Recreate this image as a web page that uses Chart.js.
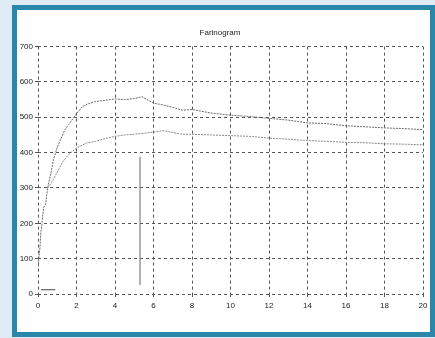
<!DOCTYPE html>
<html>
<head>
<meta charset="utf-8">
<script src="https://cdn.jsdelivr.net/npm/chart.js@4/dist/chart.umd.min.js"></script>
<style>
    html, body { margin: 0; padding: 0; }
    body { width: 435px; height: 338px; background: #deebf5; position: relative; overflow: hidden; }
    #frame { position: absolute; left: 12px; top: 5px; width: 413px; height: 322px; border: 5px solid #2a87a9; background: #fff; }
    #chart1 { display: block; }
</style>
</head>
<body>
<div id="frame"><canvas id="chart1" width="413" height="322"></canvas></div>
<script>
// curva de cima
var xSuperior = [0, 0.05, 0.1, 0.15, 0.2, 0.25, 0.3, 0.4, 0.5, 0.6, 0.7, 0.8, 1.0, 1.2, 1.4, 1.6, 1.8, 2.0, 2.3, 2.6, 3.0, 3.5, 4.0, 4.5, 5.0, 5.4, 6, 6.5, 7, 7.5, 8, 9, 10, 11, 12, 13, 14, 15, 16, 17, 18, 19, 20];
var ySuperior = [75, 105, 130, 175, 195, 225, 245, 255, 300, 325, 350, 380, 415, 440, 465, 480, 495, 510, 530, 538, 545, 548, 552, 550, 553, 558, 540, 535, 528, 520, 522, 512, 506, 502, 497, 492, 484, 482, 476, 473, 470, 468, 465];

// curva de baixo
var xInferior = [0.5, 0.7, 0.9, 1.1, 1.3, 1.6, 2.0, 2.5, 3, 3.5, 4, 4.5, 5, 5.5, 6, 6.5, 7, 7.5, 8, 9, 10, 11, 12, 13, 14, 15, 16, 17, 18, 19, 20];
var yInferior = [300, 315, 335, 355, 375, 395, 413, 427, 432, 440, 446, 450, 452, 455, 458, 462, 457, 452, 452, 450, 448, 446, 441, 438, 434, 432, 429, 428, 425, 424, 422];

// marcas soltas do papel escaneado
var xMarcaVertical = [5.3, 5.3];
var yMarcaVertical = [25, 388];
var xMarcaHorizontal = [0.15, 0.9];
var yMarcaHorizontal = [12, 12];

var xTicks = [0, 2, 4, 6, 8, 10, 12, 14, 16, 18, 20];
var yTicks = [0, 100, 200, 300, 400, 500, 600, 700];

function pares(xs, ys) {
    return xs.map(function (x, i) { return { x: x, y: ys[i] }; });
}

var fonte = { family: 'Liberation Sans', size: 8 };

var ctx1 = document.getElementById('chart1').getContext('2d');
var chart1 = new Chart(ctx1, {
    type: 'scatter',
    data: {
        datasets: [{
            data: pares(xSuperior, ySuperior),
            showLine: true,
            borderColor: '#6a6a6a',
            borderWidth: 1,
            borderDash: [2, 1],
            pointRadius: 0
        }, {
            data: pares(xInferior, yInferior),
            showLine: true,
            borderColor: '#8a8a8a',
            borderWidth: 1,
            borderDash: [2, 1],
            pointRadius: 0
        }, {
            data: pares(xMarcaVertical, yMarcaVertical),
            showLine: true,
            borderColor: '#666',
            borderWidth: 1,
            pointRadius: 0
        }, {
            data: pares(xMarcaHorizontal, yMarcaHorizontal),
            showLine: true,
            borderColor: '#444',
            borderWidth: 1,
            pointRadius: 0
        }]
    },
    options: {
        responsive: false,
        animation: false,
        layout: { padding: { left: 0, right: 7, top: 0, bottom: 0 } },
        plugins: {
            legend: { display: false },
            tooltip: { enabled: false },
            title: {
                display: true,
                text: 'Farinogram',
                color: '#222',
                font: { family: 'Liberation Sans', size: 8, weight: 'normal' },
                padding: { top: 18, bottom: 9 }
            }
        },
        scales: {
            x: {
                type: 'linear',
                min: 0,
                max: 20,
                afterBuildTicks: function (axis) {
                    axis.ticks = xTicks.map(function (v) { return { value: v }; });
                },
                afterFit: function (axis) {
                    axis.height = 38;
                    axis.paddingLeft = 0;
                    axis.paddingRight = 0;
                },
                border: { display: false, dash: [3, 3] }, // no v4 o tracejado da grade vem daqui
                grid: { color: '#555', lineWidth: 1, tickLength: 3, tickBorderDash: [3, 3] },
                ticks: { color: '#222', padding: 4, maxRotation: 0, font: fonte }
            },
            y: {
                min: 0,
                max: 700,
                afterBuildTicks: function (axis) {
                    axis.ticks = yTicks.map(function (v) { return { value: v }; });
                },
                afterFit: function (axis) { axis.width = 21; },
                border: { display: false, dash: [3, 3] },
                grid: { color: '#555', lineWidth: 1, tickLength: 3, tickBorderDash: [3, 3] },
                ticks: { color: '#222', padding: 2, font: fonte }
            }
        }
    }
});
</script>
</body>
</html>
